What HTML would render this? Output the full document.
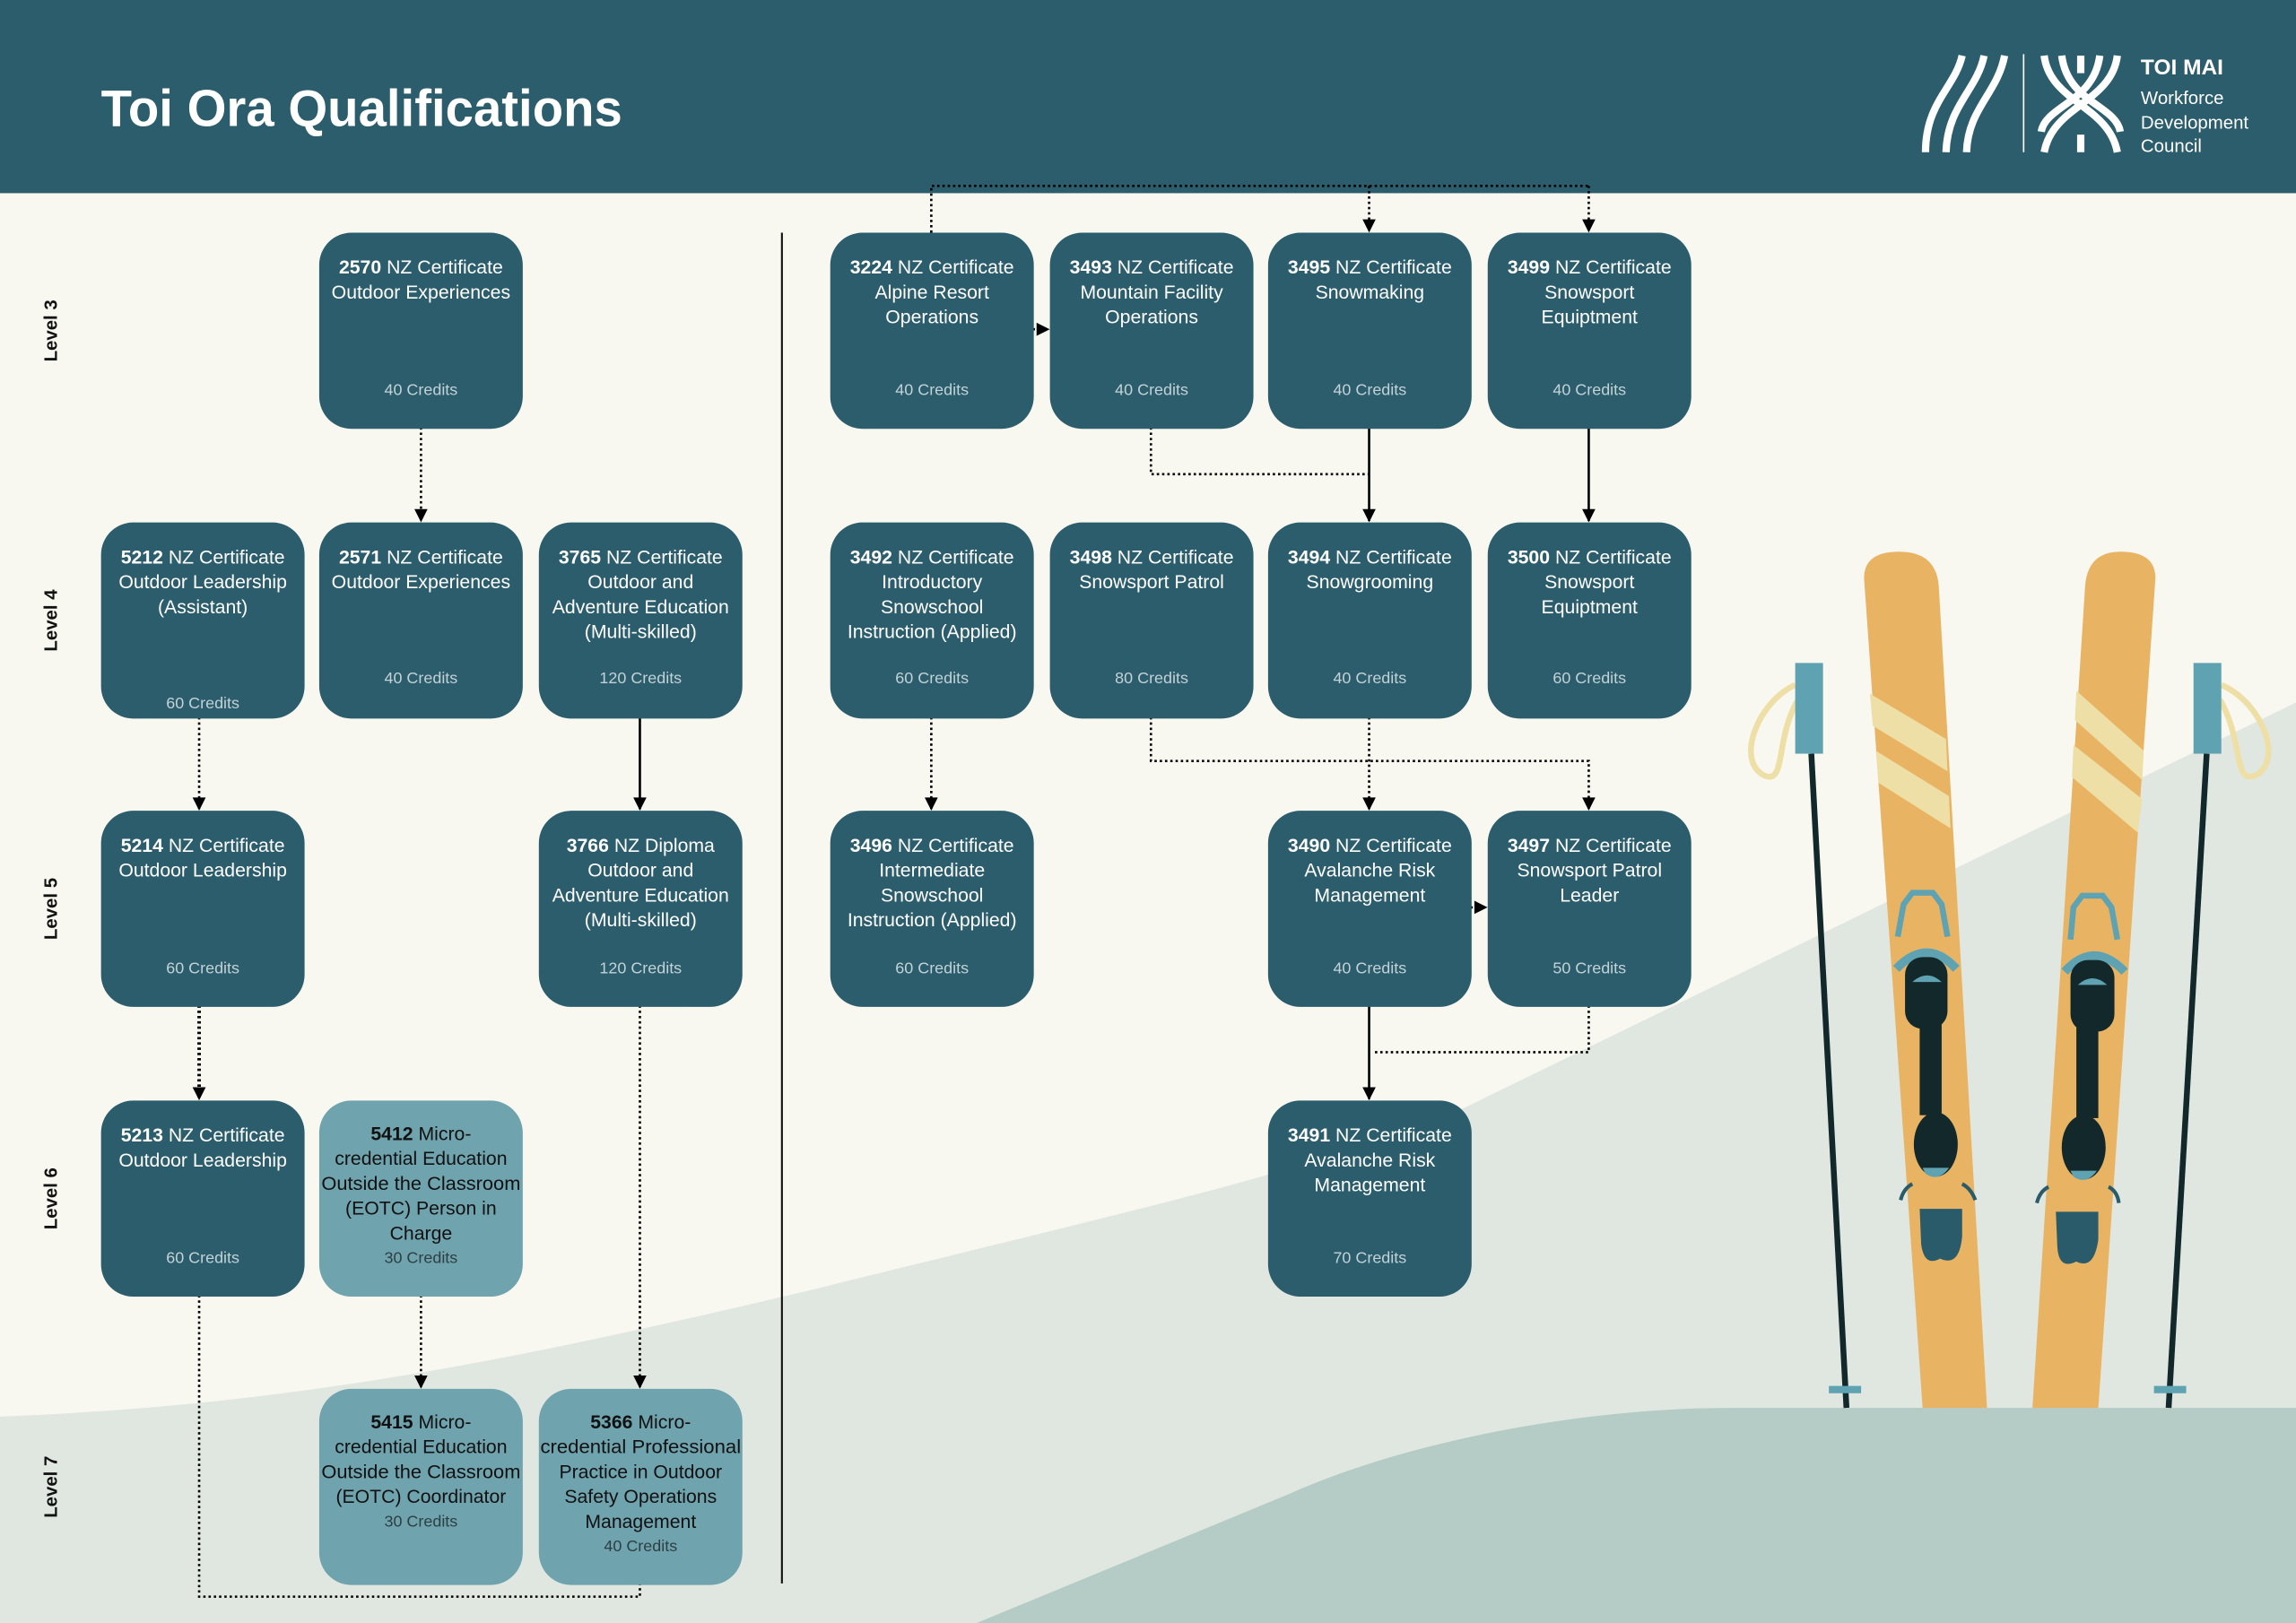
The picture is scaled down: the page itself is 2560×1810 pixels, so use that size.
<!DOCTYPE html>
<html><head><meta charset="utf-8"><style>
html,body{margin:0;padding:0;background:#f9f8f0;}
svg{display:block}
text{font-family:"Liberation Sans",sans-serif}
</style></head><body>
<svg width="2560" height="1810" viewBox="0 0 1568 1109" preserveAspectRatio="none" xmlns="http://www.w3.org/2000/svg">
<defs>
<marker id="ar" viewBox="0 0 10 10" refX="9" refY="5" markerWidth="11" markerHeight="9" orient="auto" markerUnits="userSpaceOnUse">
<path d="M0,0 L10,5 L0,10 Z" fill="#000"/></marker>
</defs>
<rect width="1568" height="1109" fill="#f9f8f0"/>
<path d="M0,968 C200,960 350,930 560,880 C760,830 900,800 1000,757 L1568,480 L1568,1109 L0,1109 Z" fill="#e0e7e0"/>
<path d="M667,1109 L880,1021 C960,985 1080,962 1182,962 L1568,962 L1568,1109 Z" fill="#b5cbc5"/>
<!-- header -->
<rect width="1568" height="132" fill="#2b5d6c"/>
<text x="69" y="86" font-size="35" font-weight="bold" fill="#fff" textLength="356" lengthAdjust="spacingAndGlyphs">Toi Ora Qualifications</text>
<!-- logo -->
<g fill="none" stroke="#fff" stroke-width="5">
<path d="M1340,38 C1335,60 1315,70 1315,104"/>
<path d="M1355,38 C1350,62 1330,72 1329,104"/>
<path d="M1369,38 C1364,64 1344,74 1343,104"/>
<path d="M1396,38 C1400,70 1440,72 1446,104"/>
<path d="M1408,38 C1412,70 1445,72 1448,90"/>
<path d="M1446,38 C1442,70 1402,72 1396,104"/>
<path d="M1434,38 C1430,70 1397,72 1394,90"/>
<path d="M1421,38 L1421,50"/>
<path d="M1421,92 L1421,104"/>
</g>
<line x1="1382" y1="37" x2="1382" y2="104" stroke="#fff" stroke-width="1"/>
<text x="1462" y="51" font-size="15" font-weight="bold" fill="#fff">TOI MAI</text>
<text x="1462" y="71" font-size="12.5" fill="#fff">Workforce</text>
<text x="1462" y="88" font-size="12.5" fill="#fff">Development</text>
<text x="1462" y="104" font-size="12.5" fill="#fff">Council</text>

<!-- divider -->
<line x1="534" y1="159" x2="534" y2="1082" stroke="#111" stroke-width="1.3"/>

<!-- level labels -->
<g font-size="12.5" font-weight="bold" fill="#111" text-anchor="middle">
<text transform="translate(39,226) rotate(-90)">Level 3</text>
<text transform="translate(39,424) rotate(-90)">Level 4</text>
<text transform="translate(39,621) rotate(-90)">Level 5</text>
<text transform="translate(39,819) rotate(-90)">Level 6</text>
<text transform="translate(39,1016) rotate(-90)">Level 7</text>
</g>

<!-- connectors -->
<g fill="none" stroke="#000" stroke-width="1.6">
<g stroke-dasharray="1.6 2">
<path d="M287.5,292 V356" marker-end="url(#ar)"/>
<path d="M136,490 V553" marker-end="url(#ar)"/>
<path d="M136,687 V751" marker-end="url(#ar)" stroke-width="2.4"/>
<path d="M437,687 V948" marker-end="url(#ar)"/>
<path d="M287.5,885 V948" marker-end="url(#ar)"/>
<path d="M136,885 V1091 H437 V1082"/>
<path d="M636,159 V127 H1085"/>
<path d="M935,127 V158" marker-end="url(#ar)"/>
<path d="M1085,127 V158" marker-end="url(#ar)"/>
<path d="M698,225 H716" marker-end="url(#ar)"/>
<path d="M786,292 V324 H935"/>
<path d="M636,490 V553" marker-end="url(#ar)"/>
<path d="M786,490 V520 H1085 V553" marker-end="url(#ar)"/>
<path d="M935,490 V553" marker-end="url(#ar)"/>
<path d="M997,620 H1015" marker-end="url(#ar)"/>
<path d="M1085,687 V719 H937"/>
</g>
<path d="M437,490 V553" marker-end="url(#ar)"/>
<path d="M935,292 V356" marker-end="url(#ar)"/>
<path d="M1085,292 V356" marker-end="url(#ar)"/>
<path d="M935,687 V751" marker-end="url(#ar)"/>
</g>

<!-- boxes -->
<g fill="#2b5d6c">
<rect x="218" y="159" width="139" height="134" rx="22"/>
<rect x="69" y="357" width="139" height="134" rx="22"/>
<rect x="218" y="357" width="139" height="134" rx="22"/>
<rect x="368" y="357" width="139" height="134" rx="22"/>
<rect x="69" y="554" width="139" height="134" rx="22"/>
<rect x="368" y="554" width="139" height="134" rx="22"/>
<rect x="69" y="752" width="139" height="134" rx="22"/>
<rect x="567" y="159" width="139" height="134" rx="22"/>
<rect x="717" y="159" width="139" height="134" rx="22"/>
<rect x="866" y="159" width="139" height="134" rx="22"/>
<rect x="1016" y="159" width="139" height="134" rx="22"/>
<rect x="567" y="357" width="139" height="134" rx="22"/>
<rect x="717" y="357" width="139" height="134" rx="22"/>
<rect x="866" y="357" width="139" height="134" rx="22"/>
<rect x="1016" y="357" width="139" height="134" rx="22"/>
<rect x="567" y="554" width="139" height="134" rx="22"/>
<rect x="866" y="554" width="139" height="134" rx="22"/>
<rect x="1016" y="554" width="139" height="134" rx="22"/>
<rect x="866" y="752" width="139" height="134" rx="22"/>
</g>
<g fill="#6fa3ae">
<rect x="218" y="752" width="139" height="134" rx="22"/>
<rect x="218" y="949" width="139" height="134" rx="22"/>
<rect x="368" y="949" width="139" height="134" rx="22"/>
</g>

<g font-size="13" fill="#fff" text-anchor="middle">
<text x="287.5" y="187"><tspan font-weight="bold">2570</tspan> NZ Certificate</text>
<text x="287.5" y="204">Outdoor Experiences</text>
<text x="138.5" y="385"><tspan font-weight="bold">5212</tspan> NZ Certificate</text>
<text x="138.5" y="402">Outdoor Leadership</text>
<text x="138.5" y="419">(Assistant)</text>
<text x="287.5" y="385"><tspan font-weight="bold">2571</tspan> NZ Certificate</text>
<text x="287.5" y="402">Outdoor Experiences</text>
<text x="437.5" y="385"><tspan font-weight="bold">3765</tspan> NZ Certificate</text>
<text x="437.5" y="402">Outdoor and</text>
<text x="437.5" y="419">Adventure Education</text>
<text x="437.5" y="436">(Multi-skilled)</text>
<text x="138.5" y="582"><tspan font-weight="bold">5214</tspan> NZ Certificate</text>
<text x="138.5" y="599">Outdoor Leadership</text>
<text x="437.5" y="582"><tspan font-weight="bold">3766</tspan> NZ Diploma</text>
<text x="437.5" y="599">Outdoor and</text>
<text x="437.5" y="616">Adventure Education</text>
<text x="437.5" y="633">(Multi-skilled)</text>
<text x="138.5" y="780"><tspan font-weight="bold">5213</tspan> NZ Certificate</text>
<text x="138.5" y="797">Outdoor Leadership</text>
<text x="636.5" y="187"><tspan font-weight="bold">3224</tspan> NZ Certificate</text>
<text x="636.5" y="204">Alpine Resort</text>
<text x="636.5" y="221">Operations</text>
<text x="786.5" y="187"><tspan font-weight="bold">3493</tspan> NZ Certificate</text>
<text x="786.5" y="204">Mountain Facility</text>
<text x="786.5" y="221">Operations</text>
<text x="935.5" y="187"><tspan font-weight="bold">3495</tspan> NZ Certificate</text>
<text x="935.5" y="204">Snowmaking</text>
<text x="1085.5" y="187"><tspan font-weight="bold">3499</tspan> NZ Certificate</text>
<text x="1085.5" y="204">Snowsport</text>
<text x="1085.5" y="221">Equiptment</text>
<text x="636.5" y="385"><tspan font-weight="bold">3492</tspan> NZ Certificate</text>
<text x="636.5" y="402">Introductory</text>
<text x="636.5" y="419">Snowschool</text>
<text x="636.5" y="436">Instruction (Applied)</text>
<text x="786.5" y="385"><tspan font-weight="bold">3498</tspan> NZ Certificate</text>
<text x="786.5" y="402">Snowsport Patrol</text>
<text x="935.5" y="385"><tspan font-weight="bold">3494</tspan> NZ Certificate</text>
<text x="935.5" y="402">Snowgrooming</text>
<text x="1085.5" y="385"><tspan font-weight="bold">3500</tspan> NZ Certificate</text>
<text x="1085.5" y="402">Snowsport</text>
<text x="1085.5" y="419">Equiptment</text>
<text x="636.5" y="582"><tspan font-weight="bold">3496</tspan> NZ Certificate</text>
<text x="636.5" y="599">Intermediate</text>
<text x="636.5" y="616">Snowschool</text>
<text x="636.5" y="633">Instruction (Applied)</text>
<text x="935.5" y="582"><tspan font-weight="bold">3490</tspan> NZ Certificate</text>
<text x="935.5" y="599">Avalanche Risk</text>
<text x="935.5" y="616">Management</text>
<text x="1085.5" y="582"><tspan font-weight="bold">3497</tspan> NZ Certificate</text>
<text x="1085.5" y="599">Snowsport Patrol</text>
<text x="1085.5" y="616">Leader</text>
<text x="935.5" y="780"><tspan font-weight="bold">3491</tspan> NZ Certificate</text>
<text x="935.5" y="797">Avalanche Risk</text>
<text x="935.5" y="814">Management</text>
</g>

<g font-size="11" fill="#c3d2d6" text-anchor="middle">
<text x="287.5" y="270">40 Credits</text>
<text x="138.5" y="484">60 Credits</text>
<text x="287.5" y="467">40 Credits</text>
<text x="437.5" y="467">120 Credits</text>
<text x="138.5" y="665">60 Credits</text>
<text x="437.5" y="665">120 Credits</text>
<text x="138.5" y="863">60 Credits</text>
<text x="636.5" y="270">40 Credits</text>
<text x="786.5" y="270">40 Credits</text>
<text x="935.5" y="270">40 Credits</text>
<text x="1085.5" y="270">40 Credits</text>
<text x="636.5" y="467">60 Credits</text>
<text x="786.5" y="467">80 Credits</text>
<text x="935.5" y="467">40 Credits</text>
<text x="1085.5" y="467">60 Credits</text>
<text x="636.5" y="665">60 Credits</text>
<text x="935.5" y="665">40 Credits</text>
<text x="1085.5" y="665">50 Credits</text>
<text x="935.5" y="863">70 Credits</text>
</g>

<g font-size="13" fill="#111" text-anchor="middle">
<text x="287.5" y="779"><tspan font-weight="bold">5412</tspan> Micro-</text>
<text x="287.5" y="796">credential Education</text>
<text x="287.5" y="813" textLength="136" lengthAdjust="spacingAndGlyphs">Outside the Classroom</text>
<text x="287.5" y="830">(EOTC) Person in</text>
<text x="287.5" y="847">Charge</text>
<text x="287.5" y="976"><tspan font-weight="bold">5415</tspan> Micro-</text>
<text x="287.5" y="993">credential Education</text>
<text x="287.5" y="1010" textLength="136" lengthAdjust="spacingAndGlyphs">Outside the Classroom</text>
<text x="287.5" y="1027">(EOTC) Coordinator</text>
<text x="437.5" y="976"><tspan font-weight="bold">5366</tspan> Micro-</text>
<text x="437.5" y="993" textLength="137" lengthAdjust="spacingAndGlyphs">credential Professional</text>
<text x="437.5" y="1010">Practice in Outdoor</text>
<text x="437.5" y="1027">Safety Operations</text>
<text x="437.5" y="1044">Management</text>
</g>
<g font-size="11" fill="#2d3f45" text-anchor="middle">
<text x="287.5" y="863">30 Credits</text>
<text x="287.5" y="1043">30 Credits</text>
<text x="437.5" y="1060">40 Credits</text>
</g>

<!-- skis -->
<g>
<path d="M1226,468 C1200,480 1185,520 1205,530 C1220,536 1212,505 1228,478" fill="none" stroke="#eedfa6" stroke-width="4"/>
<line x1="1237" y1="515" x2="1261" y2="962" stroke="#13282a" stroke-width="4"/>
<rect x="1226" y="453" width="19" height="62" fill="#5fa3b3"/>
<rect x="1249" y="947" width="22" height="5" fill="#5fa3b3"/>
<path d="M1517,468 C1545,480 1560,520 1540,530 C1525,536 1532,505 1516,478" fill="none" stroke="#eedfa6" stroke-width="4"/>
<line x1="1507" y1="515" x2="1481" y2="962" stroke="#13282a" stroke-width="4"/>
<rect x="1498" y="453" width="19" height="62" fill="#5fa3b3"/>
<rect x="1471" y="947" width="22" height="5" fill="#5fa3b3"/>
<path d="M1273,395 Q1273,377 1297,377 Q1322,377 1324,400 L1357,962 L1313,962 Z" fill="#e8b464"/>
<path d="M1277,474 L1329,505 L1330,527 L1279,496 Z" fill="#eedfa6"/>
<path d="M1281,513 L1331,544 L1332,566 L1283,535 Z" fill="#eedfa6"/>
<path d="M1296,640 L1300,618 L1306,610 L1320,610 L1326,618 L1330,640" fill="none" stroke="#5fa3b3" stroke-width="4"/>
<path d="M1295,662 Q1316,640 1336,662" fill="none" stroke="#5fa3b3" stroke-width="6"/>
<rect x="1301" y="654" width="29" height="49" rx="12" fill="#13282a"/>
<path d="M1306,671 Q1316,662 1326,671 Z" fill="#5fa3b3"/>
<rect x="1311" y="700" width="15" height="62" fill="#13282a"/>
<ellipse cx="1322" cy="782" rx="15" ry="22" fill="#13282a"/>
<path d="M1313,798 L1331,798 Q1324,808 1315,802 Z" fill="#5fa3b3"/>
<path d="M1298,820 Q1300,812 1306,809 M1340,809 Q1346,812 1349,820" fill="none" stroke="#2a5b6b" stroke-width="2.5"/>
<path d="M1311,826 L1340,826 L1340,845 Q1338,866 1325,860 Q1314,866 1312,850 Z" fill="#2a5b6b"/>
<path d="M1424,400 Q1426,377 1448,377 Q1472,377 1472,395 L1433,962 L1388,962 Z" fill="#e8b464"/>
<path d="M1418,472 L1464,513 L1463,533 L1417,492 Z" fill="#eedfa6"/>
<path d="M1416,509 L1463,546 L1460,569 L1415,531 Z" fill="#eedfa6"/>
<path d="M1414,642 L1416,620 L1422,612 L1436,612 L1442,620 L1446,642" fill="none" stroke="#5fa3b3" stroke-width="4"/>
<path d="M1410,664 Q1430,642 1451,664" fill="none" stroke="#5fa3b3" stroke-width="6"/>
<rect x="1414" y="656" width="30" height="49" rx="12" fill="#13282a"/>
<path d="M1419,673 Q1429,664 1439,673 Z" fill="#5fa3b3"/>
<rect x="1418" y="702" width="15" height="62" fill="#13282a"/>
<ellipse cx="1423" cy="784" rx="15" ry="22" fill="#13282a"/>
<path d="M1414,800 L1432,800 Q1425,810 1416,804 Z" fill="#5fa3b3"/>
<path d="M1391,822 Q1393,814 1399,811 M1440,811 Q1446,814 1447,822" fill="none" stroke="#2a5b6b" stroke-width="2.5"/>
<path d="M1404,828 L1433,828 L1433,847 Q1430,868 1418,862 Q1406,868 1405,852 Z" fill="#2a5b6b"/>
</g>
</svg>
</body></html>
